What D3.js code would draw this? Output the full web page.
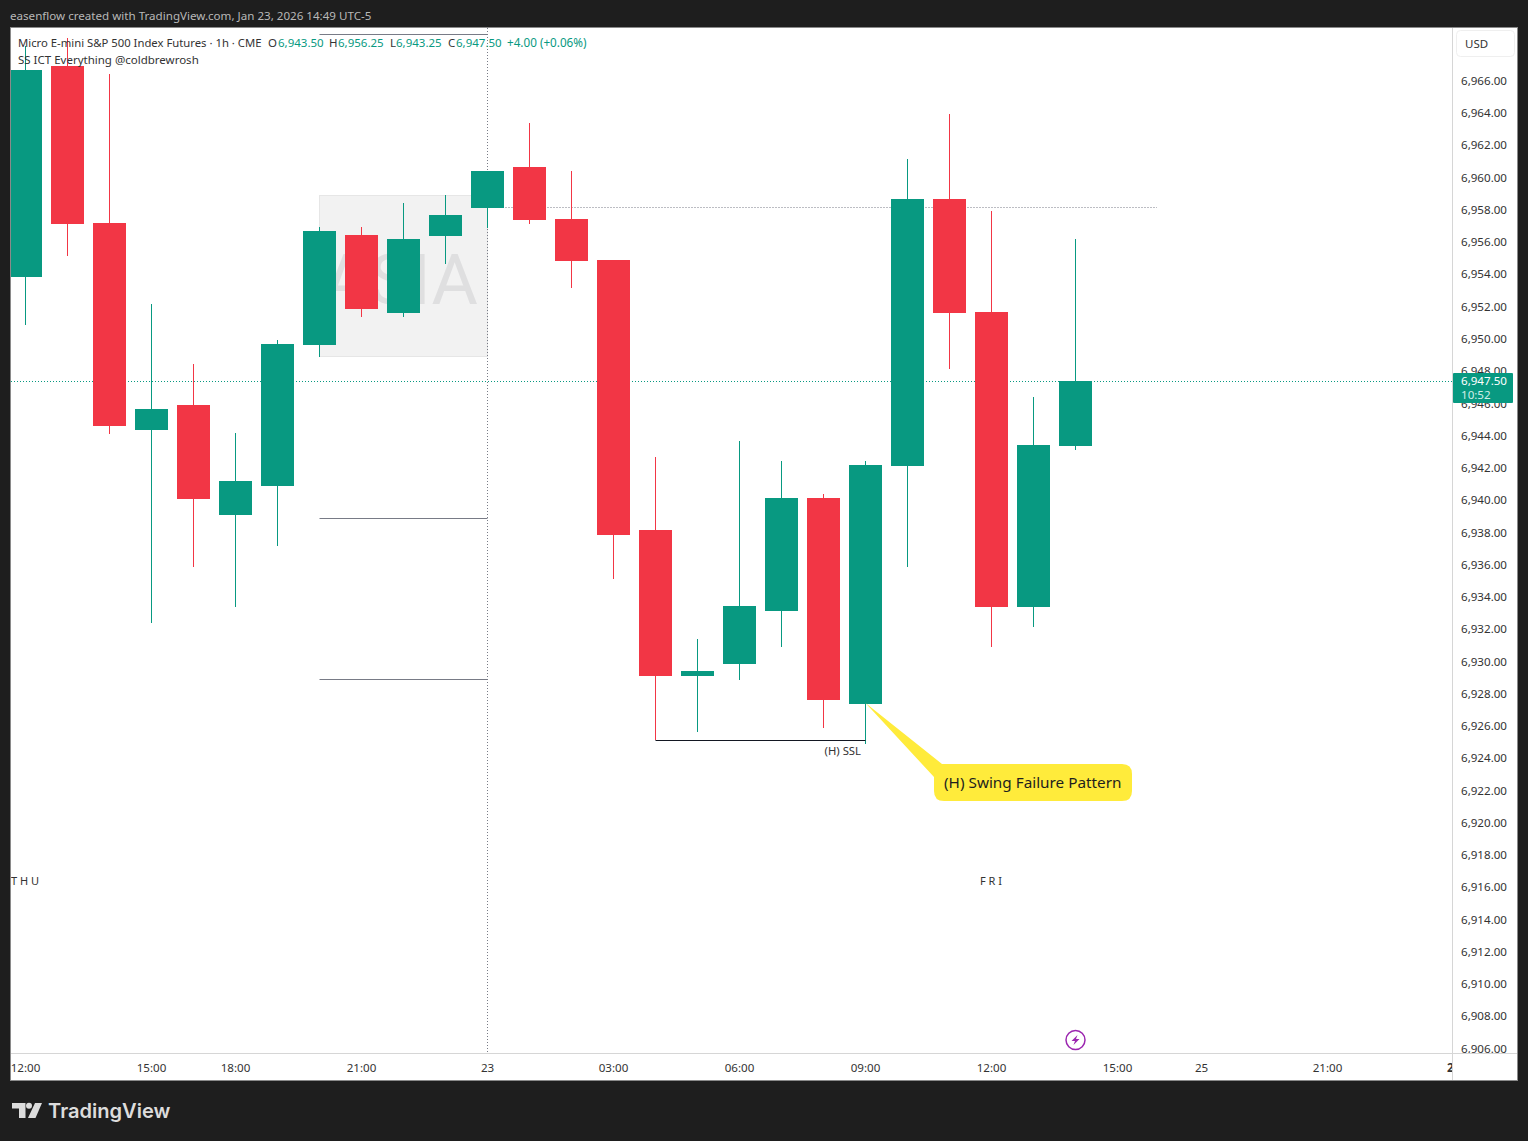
<!DOCTYPE html>
<html>
<head>
<meta charset="utf-8">
<script src="https://cdnjs.cloudflare.com/ajax/libs/d3/7.8.5/d3.min.js"></script>
<style>
  html,body{margin:0;padding:0;background:#1e1e1e}
  svg{display:block}
  text{font-family:"Noto Sans",sans-serif}
</style>
</head>
<body>
<div id="chart"></div>
<script>
// 1h bars
var opens  = [6954,6967,6957.25,6944.5,6946,6939.25,6941,6949.75,6956.5,6951.75,6956.5,6958.25,6960.75,6957.5,6955,6938.25,6929.25,6930,6933.25,6940.25,6927.5,6942.25,6958.75,6951.75,6933.5,6943.5]
var closes = [6966.75,6957.25,6944.75,6945.75,6940.25,6941.25,6949.75,6956.75,6952,6956.25,6957.75,6960.5,6957.5,6955,6938,6929.25,6929.5,6933.5,6940.25,6927.75,6942.25,6958.75,6951.75,6933.5,6943.5,6947.5]
var highs  = [6968.25,6968.75,6966.5,6952.25,6948.5,6944.25,6950,6957,6957,6958.5,6959,6960.5,6963.5,6960.5,6955,6942.75,6931.5,6943.75,6942.5,6940.5,6942.5,6961.25,6964,6958,6946.5,6956.25]
var lows   = [6951,6955.25,6944.25,6932.5,6936,6933.5,6937.25,6949,6951.5,6951.5,6954.75,6957,6957.25,6953.25,6935.25,6925.25,6925.75,6929,6931,6926,6925,6936,6948.25,6931,6932.25,6943.25]

var priceTicks = [6906,6908,6910,6912,6914,6916,6918,6920,6922,6924,6926,6928,6930,6932,6934,6936,6938,6940,6942,6944,6946,6948,6950,6952,6954,6956,6958,6960,6962,6964,6966]
var timeBars   = [0,3,5,8,11,14,17,20,23,26,28,31,34]
var timeLabels = ['12:00','15:00','18:00','21:00','23','03:00','06:00','09:00','12:00','15:00','25','21:00','26']
var dayBars    = [0,23]
var dayLabels  = ['T H U','F R I']

var lastPrice = 6947.5
var asiaHigh = 6959, asiaLow = 6949, asiaTop = 6969, asiaMid = 6939, asiaBottom = 6929
var sslPrice = 6925.25, eqPrice = 6958.25

var green = '#089981', red = '#f23645', frame = '#1e1e1e', gray = '#787b86', ink = '#333'

var width = 1528, height = 1141
var x = d3.scaleLinear().domain([0,34]).range([25.5,1453.5])
var y = d3.scaleLinear().domain([6966,6906]).range([82.7,1050.5])
var top_ = v => Math.floor(y(v))
var bot_ = v => Math.ceil(y(v))

var svg = d3.select('#chart').append('svg').attr('width',width).attr('height',height)
svg.append('rect').attr('width',width).attr('height',height).attr('fill',frame)

// white chart card
svg.append('rect').attr('x',10.5).attr('y',27.5).attr('width',1507).attr('height',1053)
  .attr('fill','#fff').attr('stroke','#8a8a8a')

svg.append('text').attr('x',10).attr('y',20).attr('fill','#b8b8b8').style('font-size','11.6px')
  .text('easenflow created with TradingView.com, Jan 23, 2026 14:49 UTC-5')

var defs = svg.append('defs')
defs.append('clipPath').attr('id','pane').append('rect').attr('x',11).attr('y',28).attr('width',1441).attr('height',1025)
defs.append('clipPath').attr('id','timeclip').append('rect').attr('x',11).attr('y',1054).attr('width',1441).attr('height',26)

var pane = svg.append('g').attr('clip-path','url(#pane)')

// asia session box
pane.append('rect').attr('x',x(7)).attr('y',top_(asiaHigh)+.5).attr('width',x(11)-x(7)).attr('height',top_(asiaLow)-top_(asiaHigh))
  .attr('fill','#f2f2f2').attr('stroke','#e6e6e6')
pane.append('text').attr('x',(x(7)+x(11))/2).attr('y',304).attr('dx',-3).attr('text-anchor','middle')
  .attr('fill','#dfdfe0').style('font-size','71px').style('font-family','Roboto').style('font-weight',400).text('ASIA')

;[asiaTop,asiaMid,asiaBottom].forEach(v=>{
  pane.append('line').attr('x1',x(7)).attr('x2',x(11)).attr('y1',top_(v)+.5).attr('y2',top_(v)+.5)
    .attr('stroke',gray)
})

// session divider and dotted levels
pane.append('line').attr('x1',x(11)).attr('x2',x(11)).attr('y1',28).attr('y2',1053)
  .attr('stroke',gray).attr('stroke-dasharray','1 2')
pane.append('line').attr('x1',x(11)).attr('x2',1157).attr('y1',top_(eqPrice)+.5).attr('y2',top_(eqPrice)+.5)
  .attr('stroke',gray).attr('stroke-dasharray','1 2')
pane.append('line').attr('x1',11).attr('x2',1452).attr('y1',top_(lastPrice)+.5).attr('y2',top_(lastPrice)+.5)
  .attr('stroke',green).attr('stroke-dasharray','1 2')

// candles
var idx = d3.range(opens.length)
var col = i => closes[i]>=opens[i] ? green : red
pane.selectAll('line.wick').data(idx).enter().append('line').attr('class','wick')
  .attr('x1',x).attr('x2',x).attr('y1',i=>top_(highs[i])).attr('y2',i=>Math.round(y(lows[i])))
  .attr('stroke',col)
pane.selectAll('rect.body').data(idx).enter().append('rect').attr('class','body')
  .attr('x',i=>x(i)-16.5).attr('width',33)
  .attr('y',i=>top_(Math.max(opens[i],closes[i])))
  .attr('height',i=>bot_(Math.min(opens[i],closes[i]))-top_(Math.max(opens[i],closes[i])))
  .attr('fill',col)

// sell side liquidity
pane.append('line').attr('x1',x(15)).attr('x2',x(20)).attr('y1',Math.round(y(sslPrice))+.5).attr('y2',Math.round(y(sslPrice))+.5).attr('stroke','#131722')
pane.append('text').attr('x',861).attr('y',755).attr('text-anchor','end').attr('fill',ink).style('font-size','11.3px').text('(H) SSL')

// callout
var tipX = x(20), tipY = top_(opens[20])
pane.append('path').attr('fill','#ffeb3b')
  .attr('d',`M${tipX},${tipY}L942,764H1122Q1132,764 1132,774V791Q1132,801 1122,801H944Q934,801 934,791V777Z`)
pane.append('text').attr('x',944).attr('y',788).attr('fill','#1e1e1e').style('font-size','15.3px').text('(H) Swing Failure Pattern')

// day labels
pane.selectAll('text.day').data(dayBars).enter().append('text').attr('class','day')
  .attr('x',d=>x(d)-.5).attr('y',885).attr('text-anchor','middle').attr('fill',ink).style('font-size','11px')
  .text((d,i)=>dayLabels[i])

// bolt marker
var bolt = pane.append('g').attr('transform',`translate(${x(25)},1040)`)
bolt.append('circle').attr('r',9.5).attr('fill','#fff').attr('stroke','#9c27b0').attr('stroke-width',1.5)
bolt.append('path').attr('d','M2,-5L-4,1H-.5L-2,5L4,-1H.5Z').attr('fill','#9c27b0')

// legend
var legend = svg.append('g').style('font-size','11.5px')
legend.append('text').attr('x',18).attr('y',47).attr('fill',ink).style('font-size','11.3px').text('Micro E-mini S&P 500 Index Futures · 1h · CME')
;[[268,'O',278,'6,943.50'],[329,'H',338,'6,956.25'],[390,'L',396,'6,943.25'],[448,'C',456,'6,947.50']].forEach(d=>{
  legend.append('text').attr('x',d[0]).attr('y',47).attr('fill',ink).text(d[1])
  legend.append('text').attr('x',d[2]).attr('y',47).attr('fill',green).text(d[3])
})
legend.append('text').attr('x',507).attr('y',47).attr('fill',green).style('font-size','11.7px').text('+4.00 (+0.06%)')
legend.append('text').attr('x',18).attr('y',64).attr('fill',ink).text('SS ICT Everything @coldbrewrosh')

// price axis
svg.append('line').attr('x1',1452.5).attr('x2',1452.5).attr('y1',28).attr('y2',1080).attr('stroke','#d6d6d6')
var yAxis = d3.axisRight(y).tickValues(priceTicks).tickFormat(d3.format(',.2f')).tickSize(0).tickPadding(8)
var yg = svg.append('g').attr('transform','translate(1453,-2)').call(yAxis)
yg.select('.domain').remove()
yg.selectAll('text').attr('fill',ink).style('font-size','11.6px')

// time axis
svg.append('line').attr('x1',11).attr('x2',1517).attr('y1',1053.5).attr('y2',1053.5).attr('stroke','#d6d6d6')
var xAxis = d3.axisBottom(x).tickValues(timeBars).tickFormat((d,i)=>timeLabels[i]).tickSize(0).tickPadding(11)
var xg = svg.append('g').attr('clip-path','url(#timeclip)').append('g').attr('transform','translate(-.5,1053)').call(xAxis)
xg.select('.domain').remove()
xg.selectAll('text').attr('fill',ink).style('font-size','11.6px')
  .style('font-weight',(d,i)=>timeLabels[i]==='26'?700:400)

// last price tag
svg.append('rect').attr('x',1453).attr('y',373).attr('width',60).attr('height',30).attr('rx',1).attr('fill',green)
svg.append('text').attr('x',1461).attr('y',385).attr('fill','#fff').style('font-size','11.6px').text(d3.format(',.2f')(lastPrice))
svg.append('text').attr('x',1461).attr('y',399).attr('fill','#cfeee8').style('font-size','11.6px').text('10:52')

// currency box
svg.append('rect').attr('x',1456.5).attr('y',30.5).attr('width',58).attr('height',26).attr('rx',4).attr('fill','#fff').attr('stroke','#efefef')
svg.append('text').attr('x',1465).attr('y',48).attr('fill',ink).style('font-size','11.5px').text('USD')

// logo
var logo = svg.append('g').attr('fill','#dcdcdc')
logo.append('path').attr('d','M12,1103H25.5V1118H19V1108.5H12Z')
logo.append('circle').attr('cx',29).attr('cy',1105.8).attr('r',3)
logo.append('path').attr('d','M35,1103H42L35.5,1118H28Z')
logo.append('text').attr('x',48).attr('y',1118).style('font-family','Inter').style('font-weight',600).style('font-size','20.1px').text('TradingView')
</script>
</body>
</html>
